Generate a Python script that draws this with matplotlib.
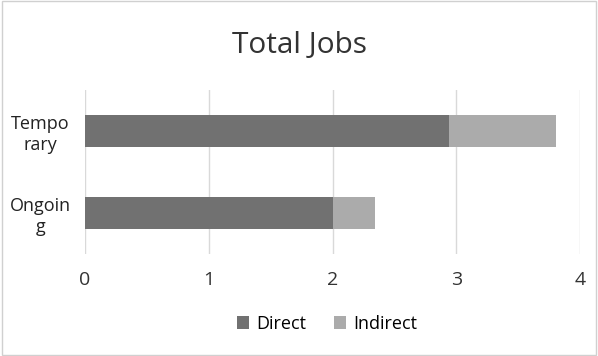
import matplotlib
matplotlib.use("Agg")
import matplotlib.pyplot as plt
from matplotlib.patches import Rectangle

categories = ["Ongoin\ng", "Tempo\nrary"]
direct = [2.0, 2.94]
indirect = [0.34, 0.87]
xticks = [0, 1, 2, 3, 4]

plt.rcParams['font.family'] = ['Open Sans', 'DejaVu Sans']

fig = plt.figure(figsize=(5.98, 3.56), dpi=100)
ax = fig.add_axes([85/598, 1-254/356, (580-85)/598, (254-90)/356])

c_direct = '#717171'
c_indirect = '#ababab'
y = range(len(categories))
ax.barh(y, direct, height=0.4, color=c_direct, label='Direct', zorder=3)
ax.barh(y, indirect, left=direct, height=0.4, color=c_indirect, label='Indirect', zorder=3)

ax.set_xlim(0, 4)
ax.set_ylim(-0.5, 1.5)
ax.set_xticks(xticks)
ax.set_xticklabels([str(t) for t in xticks], fontsize=14, color='#333333')
ax.set_yticks(list(y))
ax.set_yticklabels(categories, fontsize=13, color='#222222', linespacing=1.25)
for lab in ax.get_yticklabels():
    lab.set_horizontalalignment('center')
ax.tick_params(axis='both', length=0)
ax.tick_params(axis='x', pad=12)
ax.tick_params(axis='y', pad=32)
ax.grid(axis='x', color='#d9d9d9', linewidth=1, zorder=0)
for s in ax.spines.values():
    s.set_visible(False)

fig.text(0.5, 1-45/356, 'Total Jobs', ha='center', va='center', fontsize=21.5, color='#333333')

leg = fig.legend(loc='center', bbox_to_anchor=(0.547, 1-324/356), ncol=2, frameon=False,
                 fontsize=13, handlelength=0.7, handleheight=0.7, handletextpad=0.4,
                 columnspacing=1.5)

fig.patches.append(Rectangle((0.003, 0.003), 0.994, 0.994, transform=fig.transFigure,
                             fill=False, edgecolor='#d0d0d0', linewidth=1))

fig.savefig('out.png', dpi=100, facecolor='white')
